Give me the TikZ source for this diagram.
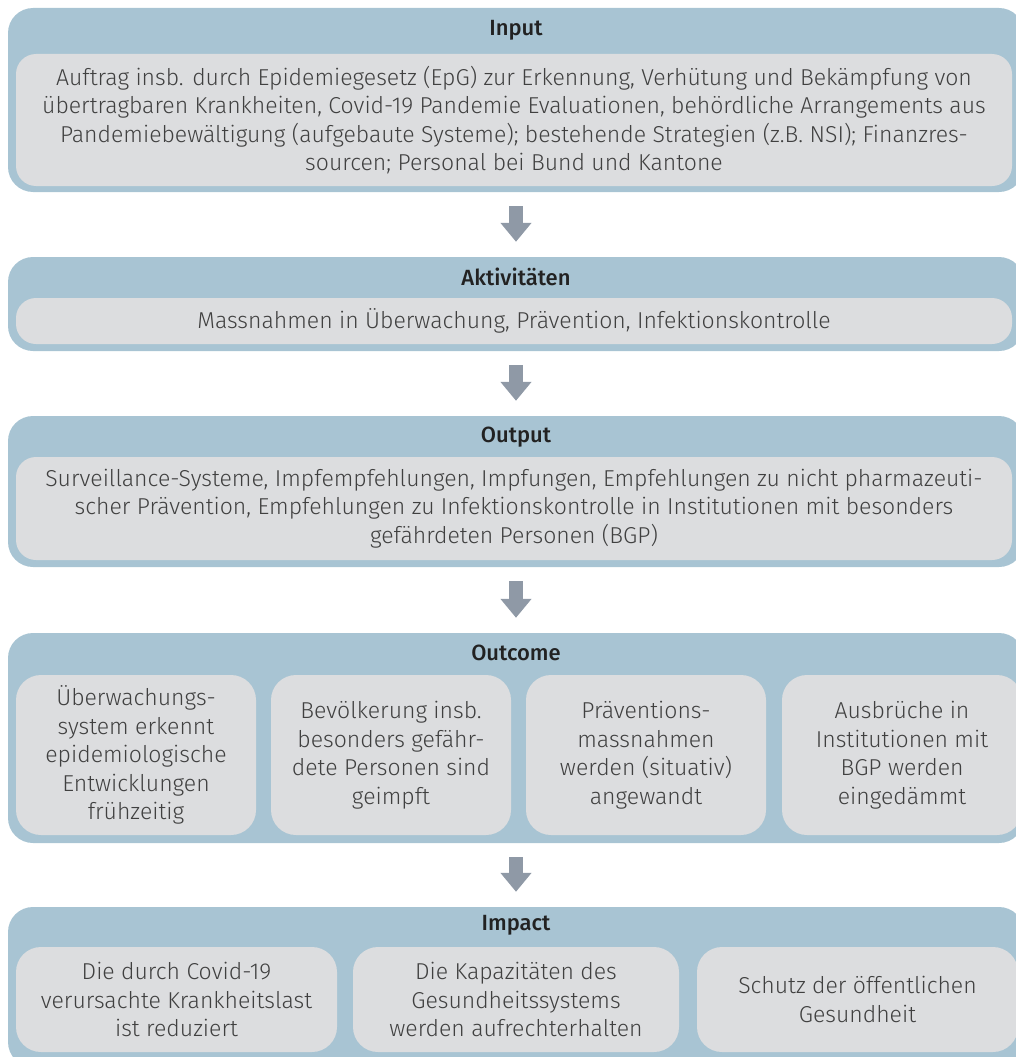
\documentclass[tikz,border=0pt]{standalone}
\usepackage{fontspec}
\setmainfont{Fira Sans}[UprightFont=* Light, BoldFont=* Medium]
\usepackage{tikz}
\usetikzlibrary{arrows.meta,positioning}
\definecolor{stageblue}{HTML}{A8C4D3}
\definecolor{boxgray}{HTML}{DCDDDF}
\definecolor{arrowgray}{HTML}{8F99A6}
\definecolor{textgray}{HTML}{404040}
\definecolor{headblack}{HTML}{222222}

\begin{document}
\begin{tikzpicture}[x=1pt,y=-1pt,inner sep=0pt,
                    flow/.style={draw=arrowgray,line width=14pt,
                      -{Triangle[width=30pt,length=19pt]},
                      shorten <=14pt,shorten >=15pt}]
\tikzstyle{stage}=[fill=stageblue,rounded corners=25pt,minimum width=1016pt]
\tikzstyle{stagehead}=[text=headblack,font=\fontsize{22}{26}\selectfont\bfseries]
\tikzstyle{content}=[fill=boxgray,rounded corners=20pt,text=textgray,align=center,
                     font=\fontsize{23}{28.5}\selectfont]
\useasboundingbox (0,0) rectangle (1016,1057);
% stages
\node[stage,minimum height=184pt] (input) at (516,100) {};
\node[stage,minimum height=94pt] (akt) at (516,304) {};
\node[stage,minimum height=151pt] (output) at (516,491.5) {};
\node[stage,minimum height=210pt] (outcome) at (516,738) {};
\node[stage,minimum height=160pt] (impact) at (516,987) {};
% headings
\node[stagehead] (inputhead) at (516,30) {Input};
\node[stagehead] (akthead) at (516,277) {Aktivitäten};
\node[stagehead] (outputhead) at (516,437) {Output};
\node[stagehead] (outcomehead) at (516,653) {Outcome};
\node[stagehead] (impacthead) at (516,925) {Impact};
% input
\node[content,minimum width=996pt,minimum height=132pt] (inputtext) at (514,120)
  {Auftrag insb. durch Epidemiegesetz (EpG) zur Erkennung, Verhütung und Bekämpfung von\\
   übertragbaren Krankheiten, Covid-19 Pandemie Evaluationen, behördliche Arrangements aus\\
   Pandemiebewältigung (aufgebaute Systeme); bestehende Strategien (z.B. NSI); Finanzres-\\
   sourcen; Personal bei Bund und Kantone};
% activities
\node[content,minimum width=996pt,minimum height=46pt] (akttext) at (514,321)
  {Massnahmen in Überwachung, Prävention, Infektionskontrolle};
% output
\node[content,minimum width=996pt,minimum height=103pt] (outputtext) at (514,508.5)
  {Surveillance-Systeme, Impfempfehlungen, Impfungen, Empfehlungen zu nicht pharmazeuti-\\
   scher Prävention, Empfehlungen zu Infektionskontrolle in Institutionen mit besonders\\
   gefährdeten Personen (BGP)};
% outcome
\tikzstyle{outbox}=[content,rounded corners=25pt,minimum width=240pt,minimum height=160pt]
\node[outbox] (outa) at (136,755) {Überwachungs-\\system erkennt\\epidemiologische\\Entwicklungen\\frühzeitig};
\node[outbox] (outb) at (391,755) {Bevölkerung insb.\\besonders gefähr-\\dete Personen sind\\geimpft};
\node[outbox] (outc) at (646,755) {Präventions-\\massnahmen\\werden (situativ)\\angewandt};
\node[outbox] (outd) at (902,755) {Ausbrüche in\\Institutionen mit\\BGP werden\\eingedämmt};
% impact
\tikzstyle{impbox}=[content,rounded corners=25pt,minimum height=105pt]
\node[impbox,minimum width=321pt] (impa) at (176.5,999.5) {Die durch Covid-19\\verursachte Krankheitslast\\ist reduziert};
\node[impbox,minimum width=326pt] (impb) at (516,999.5) {Die Kapazitäten des\\Gesundheitssystems\\werden aufrechterhalten};
\node[impbox,minimum width=321pt] (impc) at (857.5,999.5) {Schutz der öffentlichen\\Gesundheit};
% arrows
\draw[flow] (input) -- (akt);
\draw[flow] (akt) -- (output);
\draw[flow] (output) -- (outcome);
\draw[flow] (outcome) -- (impact);
\end{tikzpicture}
\end{document}
